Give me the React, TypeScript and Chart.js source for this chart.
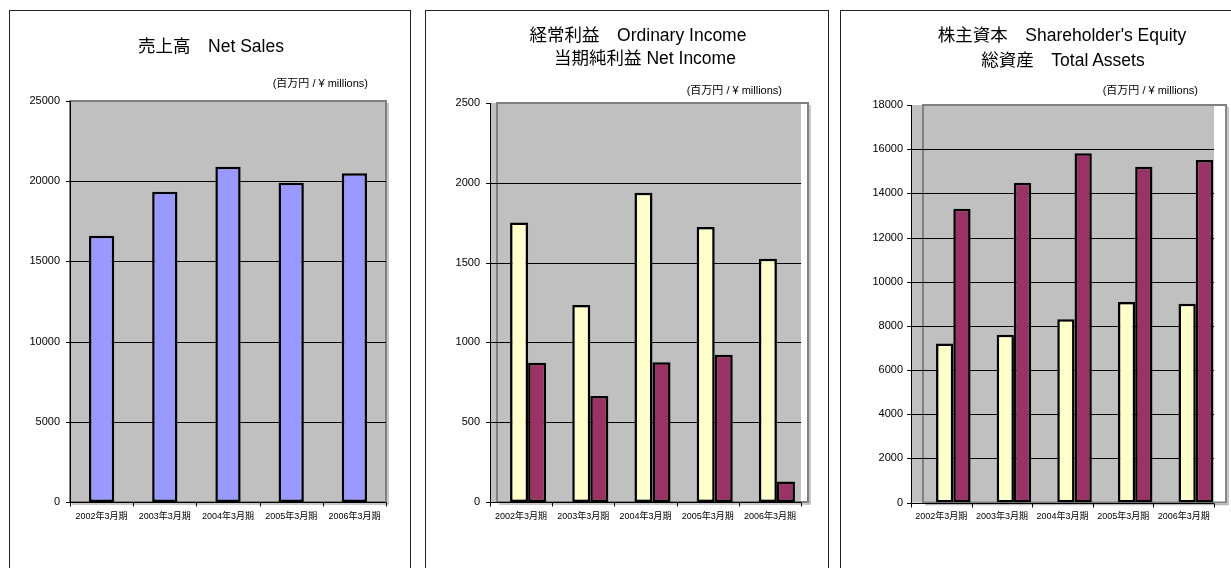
import React, { useEffect, useRef } from 'react';
import { Chart, registerables } from 'chart.js';

Chart.register(...registerables);

const FONT = "'Liberation Sans', 'Noto Sans CJK JP', Arial, sans-serif";

// ---- data ----
const categories = ['2002年3月期', '2003年3月期', '2004年3月期', '2005年3月期', '2006年3月期'];
const netSales = [16600, 19340, 20900, 19900, 20500];
const ordinaryIncome = [1752, 1235, 1937, 1723, 1524];
const netIncome = [873, 664, 876, 923, 128];
const shareholdersEquity = [7195, 7600, 8300, 9080, 9005];
const totalAssets = [13300, 14480, 15810, 15200, 15507];

const unitLabel = '(百万円 / ¥ millions)';

const BLUE = '#9999FF';
const CREAM = '#FFFFCC';
const MAROON = '#993366';

// plugin: gray plot wall, 3D-style frame, gridlines, axes, tick marks
const frame3d = {
  id: 'frame3d',
  beforeDatasetsDraw(chart: any, _args: any, opts: any) {
    const { ctx, chartArea: a, scales } = chart;
    const shift = opts.shift || 0;
    const fl = a.left - shift;
    const fr = a.right - shift;
    const top = a.top;
    const bottom = a.bottom;
    ctx.save();
    ctx.fillStyle = '#C0C0C0';
    ctx.fillRect(fl, top, fr - fl, bottom - top);
    // frame
    ctx.strokeStyle = '#808080';
    ctx.lineWidth = 2;
    ctx.strokeRect(a.left, a.top, a.right - a.left, a.bottom - a.top);
    ctx.strokeStyle = '#B8B8B8';
    ctx.lineWidth = 1.5;
    ctx.beginPath();
    ctx.moveTo(a.right + 2, a.top + 2);
    ctx.lineTo(a.right + 2, a.bottom + 2);
    ctx.lineTo(a.left + 2, a.bottom + 2);
    ctx.stroke();
    // gridlines + y tick marks
    const y = scales.y;
    ctx.strokeStyle = '#000';
    ctx.lineWidth = 1;
    y.ticks.forEach((t: any) => {
      const py = Math.round(y.getPixelForValue(t.value)) + 0.5;
      ctx.beginPath();
      if (t.value !== y.min && t.value !== y.max) {
        ctx.moveTo(fl - 4, py);
        ctx.lineTo(fr, py);
      } else {
        ctx.moveTo(fl - 4, py);
        ctx.lineTo(fl, py);
      }
      ctx.stroke();
    });
    // axes
    const bx = Math.round(fl) + 0.5;
    const by = Math.round(bottom) + 0.5;
    ctx.beginPath();
    ctx.moveTo(bx, top);
    ctx.lineTo(bx, by);
    ctx.lineTo(fr, by);
    ctx.stroke();
    // x tick marks at category boundaries
    const x = scales.x;
    const n = x.ticks.length;
    const w = (x.right - x.left) / n;
    for (let i = 0; i <= n; i++) {
      const px = Math.round(x.getPixelForValue(0) - w / 2 + i * w - shift) + 0.5;
      ctx.beginPath();
      ctx.moveTo(px, by);
      ctx.lineTo(px, by + 4);
      ctx.stroke();
    }
    ctx.restore();
  },
};

type PanelCfg = {
  panelLeft: number;
  panelWidth: number;
  canvasW: number;
  area: { l: number; r: number; t: number; b: number };
  shift: number;
  yW: number;
  yPad: number;
  max: number;
  step: number;
  datasets: any[];
  catPct: number;
  barPct: number;
  titles: { text: string; cx: number; cy: number }[];
  unitRight: number;
  unitCy: number;
};

const CANVAS_TOP = 11;
const CANVAS_H = 557;
const X_H = 30;

function Panel({ cfg }: { cfg: PanelCfg }) {
  const ref = useRef<HTMLCanvasElement>(null);
  useEffect(() => {
    if (!ref.current) return;
    const canvasLeft = cfg.panelLeft + 1;
    const padding = {
      left: cfg.area.l - canvasLeft - cfg.yW,
      right: canvasLeft + cfg.canvasW - cfg.area.r,
      top: cfg.area.t - CANVAS_TOP,
      bottom: CANVAS_TOP + CANVAS_H - cfg.area.b - X_H,
    };
    const chart = new Chart(ref.current, {
      type: 'bar',
      data: {
        labels: categories,
        datasets: cfg.datasets.map((d) => ({
          ...d,
          borderColor: '#000',
          borderWidth: 2.5,
          borderSkipped: false,
          categoryPercentage: cfg.catPct,
          barPercentage: cfg.barPct,
        })),
      },
      options: {
        animation: false,
        responsive: false,
        devicePixelRatio: 1,
        layout: { padding },
        plugins: {
          legend: { display: false },
          tooltip: { enabled: false },
          title: { display: false },
          frame3d: { shift: cfg.shift },
        } as any,
        scales: {
          x: {
            grid: { display: false, drawTicks: false },
            border: { display: false },
            ticks: {
              font: { family: FONT, size: 9 },
              color: '#000',
              padding: 9,
              labelOffset: -cfg.shift,
              maxRotation: 0,
              autoSkip: false,
            },
            afterFit: (s: any) => {
              s.height = X_H;
            },
          },
          y: {
            min: 0,
            max: cfg.max,
            grid: { display: false, drawTicks: false },
            border: { display: false },
            ticks: {
              stepSize: cfg.step,
              font: { family: FONT, size: 11 },
              color: '#000',
              padding: cfg.yPad,
              callback: (v: any) => String(v),
            },
            afterFit: (s: any) => {
              s.width = cfg.yW;
            },
          },
        },
      },
      plugins: [frame3d as any],
    });
    return () => chart.destroy();
  }, [cfg]);

  return (
    <>
      <div
        style={{
          position: 'absolute',
          left: cfg.panelLeft,
          top: 10,
          width: cfg.panelWidth,
          height: 600,
          border: '1px solid #222',
          boxSizing: 'border-box',
        }}
      />
      <canvas
        ref={ref}
        width={cfg.canvasW}
        height={CANVAS_H}
        style={{ position: 'absolute', left: cfg.panelLeft + 1, top: CANVAS_TOP, width: cfg.canvasW, height: CANVAS_H }}
      />
      {cfg.titles.map((t, i) => (
        <div
          key={i}
          style={{
            position: 'absolute',
            left: t.cx,
            top: t.cy,
            transform: 'translate(-50%, -50%)',
            whiteSpace: 'pre',
            fontFamily: FONT,
            fontSize: 17.5,
            lineHeight: '20px',
            color: '#000',
          }}
        >
          {t.text}
        </div>
      ))}
      <div
        style={{
          position: 'absolute',
          left: cfg.unitRight,
          top: cfg.unitCy,
          transform: 'translate(-100%, -50%)',
          whiteSpace: 'pre',
          fontFamily: FONT,
          fontSize: 11,
          lineHeight: '12px',
          color: '#000',
        }}
      >
        {unitLabel}
      </div>
    </>
  );
}

const panels: PanelCfg[] = [
  {
    panelLeft: 9,
    panelWidth: 402,
    canvasW: 400,
    area: { l: 70, r: 386, t: 101, b: 502 },
    shift: 0,
    yW: 50,
    yPad: 10,
    max: 25000,
    step: 5000,
    catPct: 1,
    barPct: 0.4,
    datasets: [{ label: '売上高 Net Sales', data: netSales, backgroundColor: BLUE }],
    titles: [{ text: '売上高　Net Sales', cx: 211, cy: 46 }],
    unitRight: 368,
    unitCy: 83,
  },
  {
    panelLeft: 425,
    panelWidth: 404,
    canvasW: 402,
    area: { l: 497, r: 808, t: 103, b: 502 },
    shift: 7,
    yW: 50,
    yPad: 17,
    max: 2500,
    step: 500,
    catPct: 0.58,
    barPct: 1,
    datasets: [
      { label: '経常利益 Ordinary Income', data: ordinaryIncome, backgroundColor: CREAM },
      { label: '当期純利益 Net Income', data: netIncome, backgroundColor: MAROON },
    ],
    titles: [
      { text: '経常利益　Ordinary Income', cx: 638, cy: 35 },
      { text: '当期純利益 Net Income', cx: 645, cy: 57.5 },
    ],
    unitRight: 782,
    unitCy: 90,
  },
  {
    panelLeft: 840,
    panelWidth: 420,
    canvasW: 390,
    area: { l: 923, r: 1229, t: 105, b: 502.5 },
    shift: 12,
    yW: 55,
    yPad: 20,
    max: 18000,
    step: 2000,
    catPct: 0.57,
    barPct: 1,
    datasets: [
      { label: '株主資本 Shareholder\'s Equity', data: shareholdersEquity, backgroundColor: CREAM },
      { label: '総資産 Total Assets', data: totalAssets, backgroundColor: MAROON },
    ],
    titles: [
      { text: '株主資本　Shareholder\'s Equity', cx: 1062, cy: 35 },
      { text: '総資産　Total Assets', cx: 1063, cy: 60 },
    ],
    unitRight: 1198,
    unitCy: 90,
  },
];

export default function App() {
  return (
    <div
      style={{
        position: 'fixed',
        left: 0,
        top: 0,
        width: 1231,
        height: 568,
        overflow: 'hidden',
        background: '#fff',
      }}
    >
      {panels.map((p, i) => (
        <Panel key={i} cfg={p} />
      ))}
    </div>
  );
}
